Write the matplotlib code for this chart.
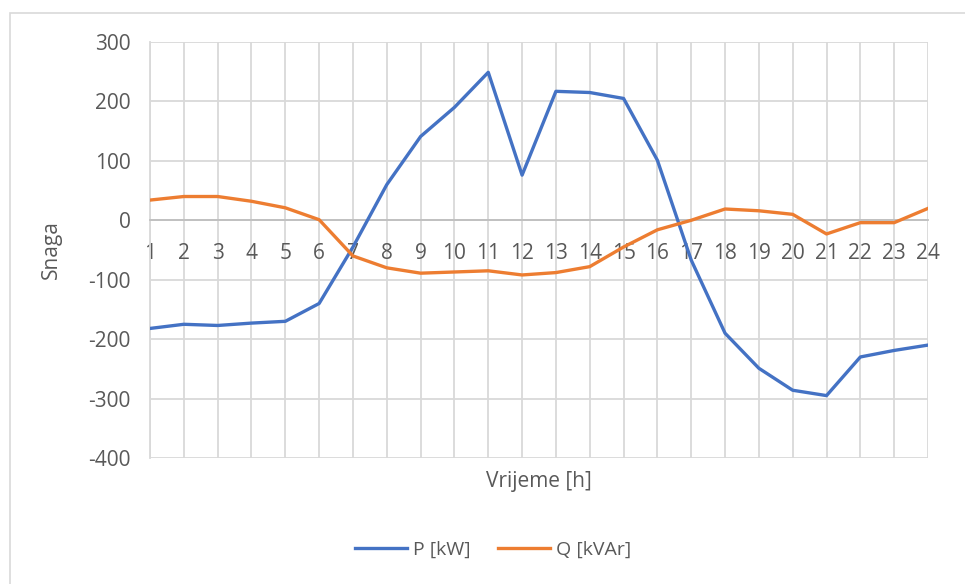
import matplotlib.pyplot as plt
from matplotlib.patches import Rectangle

# Hours and power values
hours = list(range(1, 25))
p_kw = [-182, -175, -177, -173, -170, -140, -45, 60, 141, 190, 249, 76,
        217, 215, 205, 101, -67, -190, -249, -286, -295, -230, -219, -210]
q_kvar = [34, 40, 40, 32, 21, 1, -60, -80, -89, -87, -85, -92,
          -88, -78, -45, -16, 0, 19, 16, 10, -23, -4, -4, 20]
y_ticks = [-400, -300, -200, -100, 0, 100, 200, 300]

text_color = '#595959'
grid_color = '#D9D9D9'
plt.rcParams['font.family'] = ['Open Sans', 'DejaVu Sans']
plt.rcParams['axes.unicode_minus'] = False

fig = plt.figure(figsize=(9.65, 5.84), dpi=100)
ax = fig.add_axes([150 / 965, 1 - 458 / 584, 778 / 965, 416 / 584])

# chart area border (Excel style)
fig.patches.append(Rectangle((10 / 965, -0.1), 1.0, 1 - 13 / 584 + 0.1,
                             transform=fig.transFigure, fill=False,
                             edgecolor=grid_color, linewidth=1.2))

ax.plot(hours, p_kw, color='#4472C4', linewidth=2.4, label='P [kW]', zorder=3)
ax.plot(hours, q_kvar, color='#ED7D31', linewidth=2.4, label='Q [kVAr]', zorder=3)

ax.set_xlim(1, 24)
ax.set_ylim(-400, 300)
ax.set_xticks(hours)
ax.set_yticks(y_ticks)
ax.grid(True, color=grid_color, linewidth=1.3)
ax.set_axisbelow(True)

for side in ['top', 'right']:
    ax.spines[side].set_visible(False)
ax.spines['left'].set_color(grid_color)
ax.spines['left'].set_linewidth(1.3)
ax.spines['bottom'].set_position(('data', 0))
ax.spines['bottom'].set_color('#BFBFBF')
ax.spines['bottom'].set_linewidth(1.3)

ax.tick_params(axis='x', length=0, pad=16, labelsize=15, labelcolor=text_color)
ax.tick_params(axis='y', length=0, pad=14, labelsize=15, labelcolor=text_color)

ax.set_ylabel('Snaga', fontsize=15, color=text_color)
ax.yaxis.set_label_coords((62 - 150) / 778, 0.5)
fig.text(539 / 965, 1 - 481 / 584, 'Vrijeme [h]', fontsize=15, color=text_color,
         ha='center', va='center')

leg = fig.legend(loc='center', bbox_to_anchor=(493 / 965, 1 - 550 / 584), ncol=2,
                 frameon=False, fontsize=14, handlelength=2.7, columnspacing=1.4,
                 handletextpad=0.3)
for t in leg.get_texts():
    t.set_color(text_color)

fig.savefig('out.png', dpi=100)
